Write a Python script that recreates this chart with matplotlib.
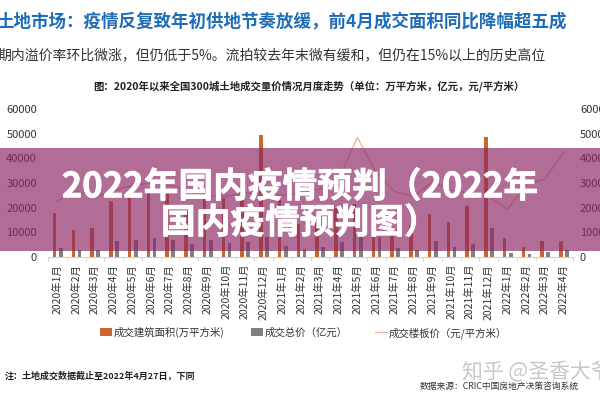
import matplotlib
matplotlib.use("Agg")
import matplotlib.pyplot as plt
import matplotlib.patheffects as pe
from matplotlib.patches import Rectangle
import numpy as np

plt.rcParams["font.family"] = ["Noto Sans CJK SC", "DejaVu Sans"]

MONTHS = [f"2020年{m}月" for m in range(1, 13)] + \
         [f"2021年{m}月" for m in range(1, 13)] + \
         [f"2022年{m}月" for m in range(1, 5)]

# 成交建筑面积 (万平方米)
AREA = [17700, 10900, 11900, 22900, 24300, 27500, 25500, 18500, 24500, 24000, 24500, 49600,
        23000, 13500, 16500, 20000, 21500, 21500, 12300, 13000, 17600, 14100, 20600, 48500,
        7800, 4100, 6400, 6600]
# 成交总价 (亿元)
TOTAL = [3800, 2700, 2700, 6400, 6700, 7800, 6800, 5200, 6800, 5700, 6100, 8200,
         4500, 3400, 4000, 6000, 8700, 8200, 3500, 2900, 6400, 4100, 5200, 11800,
         1500, 1100, 1900, 2800]
# 成交楼板价 (元/平方米)
PRICE = [2280, 2650, 2420, 2700, 2900, 3000, 2900, 2700, 2500, 2450, 2600, 2550,
         2500, 2600, 2750, 3150, 4850, 3400, 2650, 2450, 3050, 2700, 2580, 2480,
         1930, 2950, 3150, 4250]

LEFT_TICKS = [0, 10000, 20000, 30000, 40000, 50000, 60000]
RIGHT_TICKS = [0, 1000, 2000, 3000, 4000, 5000, 6000]

ORANGE = "#C8662C"
GRAY = "#808080"
LINE = "#E9B9A6"

fig = plt.figure(figsize=(6, 4), dpi=100)
ax = fig.add_axes([0.08, 0.3575, 0.875, 0.37])
x = np.arange(len(MONTHS))

ax.bar(x - 0.15, AREA, width=0.19, color=ORANGE, label="成交建筑面积(万平方米)")
ax.bar(x + 0.18, TOTAL, width=0.19, color=GRAY, label="成交总价（亿元）")
ax.set_xlim(-0.5, len(MONTHS) - 0.5)
ax.set_ylim(0, 60000)
ax.set_yticks(LEFT_TICKS)
ax.set_yticklabels([str(v) for v in LEFT_TICKS])
ax.set_xticks(x)
ax.set_xticklabels(MONTHS, rotation=90, fontsize=7.5, color="#333333")
ax.set_xticks(np.arange(len(MONTHS) + 1) - 0.5, minor=True)
ax.tick_params(axis="x", which="major", length=0, pad=5)
ax.tick_params(axis="x", which="minor", length=3, color="#D0D0D0")
ax.tick_params(axis="y", length=0, labelsize=8, labelcolor="#333333", pad=8)
for side in ["top", "right", "left"]:
    ax.spines[side].set_visible(False)
ax.spines["bottom"].set_color("#D0D0D0")

# right axis runs off the picture edge, as in the source screenshot
ax2 = ax.twinx()
ax2.plot(x, PRICE, color=LINE, lw=1.0, label="成交楼板价（元/平方米）")
ax2.set_ylim(0, 6000)
ax2.set_yticks(RIGHT_TICKS)
ax2.set_yticklabels([str(v) for v in RIGHT_TICKS])
ax2.tick_params(axis="y", length=0, labelsize=8, labelcolor="#333333", pad=5)
for side in ["top", "right", "left", "bottom"]:
    ax2.spines[side].set_visible(False)

h1, l1 = ax.get_legend_handles_labels()
h2, l2 = ax2.get_legend_handles_labels()
fig.legend(h1 + h2, l1 + l2, loc="center", bbox_to_anchor=(0.505, 0.168), ncol=3,
           frameon=False, fontsize=7.5, handlelength=1.2, handleheight=0.8,
           handletextpad=0.1, columnspacing=2.6, labelcolor="#333333")

# header texts
fig.text(-0.006, 0.945, "土地市场：疫情反复致年初供地节奏放缓，前4月成交面积同比降幅超五成",
         color="#1F6DB8", fontsize=12.6, fontweight="bold", ha="left", va="center")
fig.text(-0.004, 0.862, "期内溢价率环比微涨，但仍低于5%。流拍较去年末微有缓和，但仍在15%以上的历史高位",
         color="#333333", fontsize=10.0, ha="left", va="center")
fig.text(0.515, 0.785, "图：2020年以来全国300城土地成交量价情况月度走势（单位：万平方米，亿元，元/平方米）",
         color="#222222", fontsize=7.5, fontweight="bold", ha="center", va="center")

# footer texts
fig.text(0.008, 0.06, "注：土地成交数据截止至2022年4月27日，下同",
         color="#222222", fontsize=6.5, fontweight="bold", ha="left", va="center")
fig.text(0.77, 0.07, "知乎 @圣香大爷", color="#C8C8C8", fontsize=15, ha="left", va="center")
fig.text(0.70, 0.035, "数据来源：CRIC中国房地产决策咨询系统",
         color="#333333", fontsize=6.3, ha="left", va="center")

# title banner overlay
fig.add_artist(Rectangle((0, 0.3725), 1, 0.2575, transform=fig.transFigure,
                         facecolor="#8C2864", alpha=0.68, edgecolor="none", zorder=10))
thick = [pe.withStroke(linewidth=0.5, foreground="white")]
fig.text(0.5, 0.533, "2022年国内疫情预判（2022年", color="white", fontsize=25,
         fontweight="bold", ha="center", va="center", zorder=11, path_effects=thick)
fig.text(0.5, 0.443, "国内疫情预判图）", color="white", fontsize=25,
         fontweight="bold", ha="center", va="center", zorder=11, path_effects=thick)

fig.savefig("out.png", dpi=100)
